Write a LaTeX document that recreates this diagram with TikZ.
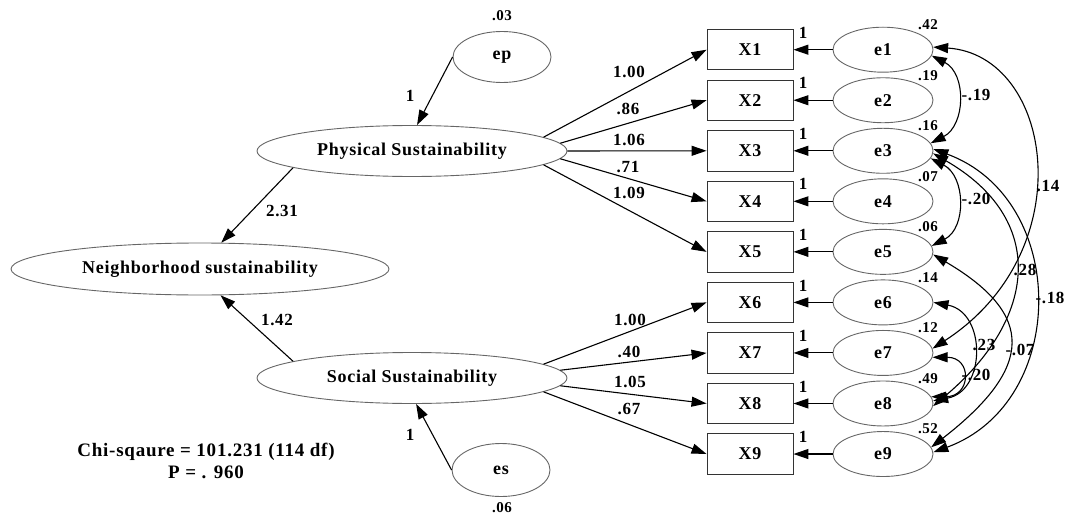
\documentclass[tikz,border=0pt]{standalone}
\usepackage{fontspec}
\setmainfont{Liberation Serif}[LetterSpace=4]
\usetikzlibrary{arrows.meta,shapes.geometric}
\begin{document}
\begin{tikzpicture}[x=1pt,y=-1pt,
  >={Triangle[length=15pt,width=10pt]},
  line/.style={line width=1.1pt,draw=black},
  lat/.style={ellipse,draw=black!60,line width=0.9pt,inner sep=0pt,font=\bfseries\fontsize{18}{20}\selectfont},
  obs/.style={rectangle,draw=black!80,line width=0.9pt,minimum width=86pt,minimum height=40.5pt,inner sep=0pt,font=\bfseries\fontsize{18}{20}\selectfont},
  err/.style={lat,minimum width=100pt,minimum height=45pt},
  lab/.style={font=\bfseries\fontsize{17}{18}\selectfont,inner sep=0pt},
  var/.style={font=\bfseries\fontsize{15}{16}\selectfont,inner sep=0pt},
]
\useasboundingbox (0,0) rectangle (1065,519);

% latent variables
\node[lat,minimum width=310pt,minimum height=51pt] (P) at (412,151) {Physical Sustainability};
\node[lat,minimum width=310pt,minimum height=51pt] (S) at (412,378) {Social Sustainability};
\node[lat,minimum width=378pt,minimum height=52pt] (N) at (200,269) {Neighborhood sustainability};
\node[lat,minimum width=98pt,minimum height=51pt] (ep) at (502,57) {ep};
\node[lat,minimum width=98pt,minimum height=53pt] (es) at (501,470) {es};
\node[var] (vep) at (502,16) {.03};
\node[var] (ves) at (502,508) {.06};

% structural paths
\draw[line,->] (ep.west) -- (P.79);
\node[lab] (lep) at (410,96) {1};
\draw[line,->] (es.west) -- (S.279);
\node[lab] (les) at (410,435) {1};
\draw[line,->] (P.188) -- (N.51);
\node[lab] (lpn) at (282,211) {2.31};
\draw[line,->] (S.172) -- (N.308);
\node[lab] (lsn) at (277,320) {1.42};

% indicators and errors
\foreach \i/\v in {1/.42,2/.19,3/.16,4/.07,5/.06,6/.14,7/.12,8/.49,9/.52} {
  \pgfmathsetmacro\yy{49.7+50.54*(\i-1)}
  \node[obs] (X\i) at (750,\yy) {X\i};
  \node[err] (e\i) at (883,\yy) {e\i};
  \draw[line,->] (e\i) -- (X\i);
  \node[var] (v\i) at (928,\yy-25) {\v};
  \node[lab] (one\i) at (803,\yy-17) {1};
}

% loadings
\draw[line,->] (P.6) -- (X1.west);
\draw[line,->] (P.3) -- (X2.west);
\draw[line,->] (P.east) -- (X3.west);
\draw[line,->] (P.357) -- (X4.west);
\draw[line,->] (P.354) -- (X5.west);
\node[lab] (w1) at (629,72) {1.00};
\node[lab] (w2) at (628,109) {.86};
\node[lab] (w3) at (629,140) {1.06};
\node[lab] (w4) at (628,167) {.71};
\node[lab] (w5) at (629,193) {1.09};

\draw[line,->] (S.6) -- (X6.west);
\draw[line,->] (S.3) -- (X7.west);
\draw[line,->] (S.357) -- (X8.west);
\draw[line,->] (S.354) -- (X9.west);
\node[lab] (w6) at (630,320) {1.00};
\node[lab] (w7) at (629,352) {.40};
\node[lab] (w8) at (630,382) {1.05};
\node[lab] (w9) at (629,409) {.67};

% covariances
\draw[line,<->] (e1.353) .. controls +(35,18) and +(35,-18) .. (e3.9);
\node[lab] (c1) at (976,95) {-.19};
\draw[line,<->] (e3.351) .. controls +(35,18) and +(35,-18) .. (e5.7);
\node[lab] (c2) at (976,199) {-.20};
\draw[line,<->] (e1.3) .. controls +(120,8) and +(151,-98) .. (e7.5);
\node[lab] (c3) at (1048,186) {.14};
\draw[line,<->] (e3.357) .. controls +(113,65) and +(106,-89) .. (e8.357);
\node[lab] (c4) at (1025,270) {.28};
\draw[line,<->] (e3.2) .. controls +(136,50) and +(136,-50) .. (e9.2);
\node[lab] (c5) at (1050,298) {-.18};
\draw[line,<->] (e5.357) .. controls +(102,60) and +(103,-80) .. (e9.8);
\node[lab] (c6) at (1020,350) {-.07};
\draw[line,<->] (e6.east) .. controls +(53,10) and +(53,-10) .. (e8.3);
\node[lab] (c7) at (984,345) {.23};
\draw[line,<->] (e7.355) .. controls +(40,0) and +(40,0) .. (e8.8);
\node[lab] (c8) at (976,375) {-.20};

% fit
\node[align=center,inner sep=0pt,font=\bfseries\fontsize{19}{22}\selectfont] (chi) at (206,461) {Chi-sqaure = 101.231 (114 df)\\P = . 960};
\end{tikzpicture}
\end{document}
